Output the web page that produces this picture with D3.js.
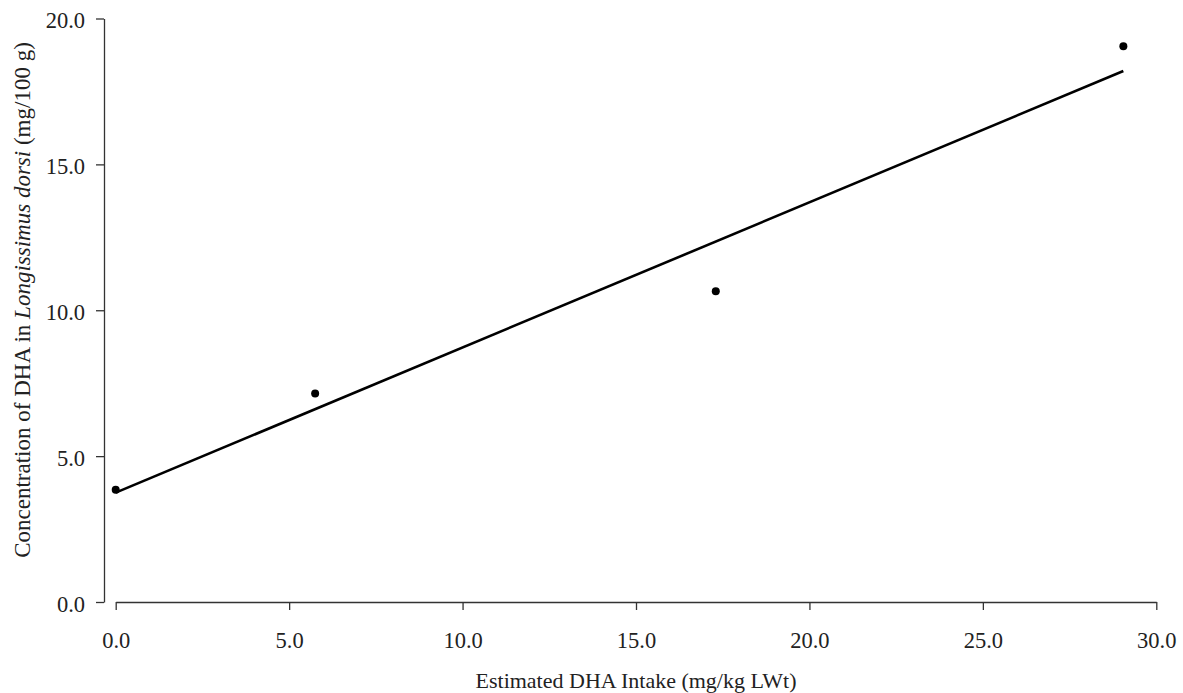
<!DOCTYPE html>
<meta charset="utf-8">
<head>
    <style>
        body { margin: 0; background: #fff; }
        text { font-family: "Liberation Serif", "Times New Roman", serif; fill: #222; }
        .axis path, .axis line { stroke: #333; stroke-width: 1.3; }
    </style>
    <script src="https://d3js.org/d3.v7.min.js"></script>
</head>
<div id="my_dataviz"></div>

<script>

// data
var intake = [0.0, 5.75, 17.3, 29.05];
var dha = [3.85, 7.15, 10.65, 19.05];
// fitted line end points
var trendX = [0.0, 29.05];
var trendY = [3.75, 18.2];
var xTicks = [0, 5, 10, 15, 20, 25, 30];
var yTicks = [0, 5, 10, 15, 20];

var W = 1183, H = 693;

var svg = d3.select("#my_dataviz")
  .append("svg")
    .attr("width", W)
    .attr("height", H);

var x = d3.scaleLinear().domain([0, 30]).range([115.7, 1156.3]);
var y = d3.scaleLinear().domain([0, 20]).range([602, 18.5]);

// x axis
var xAxis = svg.append("g")
    .attr("class", "axis")
    .attr("transform", "translate(0,602)")
    .call(d3.axisBottom(x).tickValues(xTicks).tickSize(8).tickSizeOuter(0)
        .tickFormat(d => d.toFixed(1)));
xAxis.selectAll("text").style("font-size", "22.5px").attr("y", 46).attr("dy", 0);

// y axis, sits a bit left of x = 0
var yAxis = svg.append("g")
    .attr("class", "axis")
    .attr("transform", "translate(104,0)")
    .call(d3.axisLeft(y).tickValues(yTicks).tickSize(8).tickSizeOuter(0)
        .tickFormat(d => d.toFixed(1)));
yAxis.selectAll("text").style("font-size", "22.5px").attr("x", -19).attr("y", 9).attr("dy", 0);

// trend line
svg.append("path")
    .datum(trendX.map((d, i) => [d, trendY[i]]))
    .attr("fill", "none")
    .attr("stroke", "#000")
    .attr("stroke-width", 2.6)
    .attr("d", d3.line().x(d => x(d[0])).y(d => y(d[1])));

// points
svg.append("g")
    .selectAll("circle")
    .data(intake)
    .enter()
    .append("circle")
    .attr("cx", d => x(d))
    .attr("cy", (d, i) => y(dha[i]))
    .attr("r", 4)
    .style("fill", "#000");

// labels
svg.append("text")
    .attr("text-anchor", "middle")
    .attr("x", 636)
    .attr("y", 688)
    .style("font-size", "22px")
    .text("Estimated DHA Intake (mg/kg LWt)");

var yl = svg.append("text")
    .attr("text-anchor", "middle")
    .attr("transform", "translate(29.5,300) rotate(-90)")
    .style("font-size", "23px");
yl.append("tspan").text("Concentration of DHA in ");
yl.append("tspan").style("font-style", "italic").text("Longissimus dorsi");
yl.append("tspan").text(" (mg/100 g)");

</script>
